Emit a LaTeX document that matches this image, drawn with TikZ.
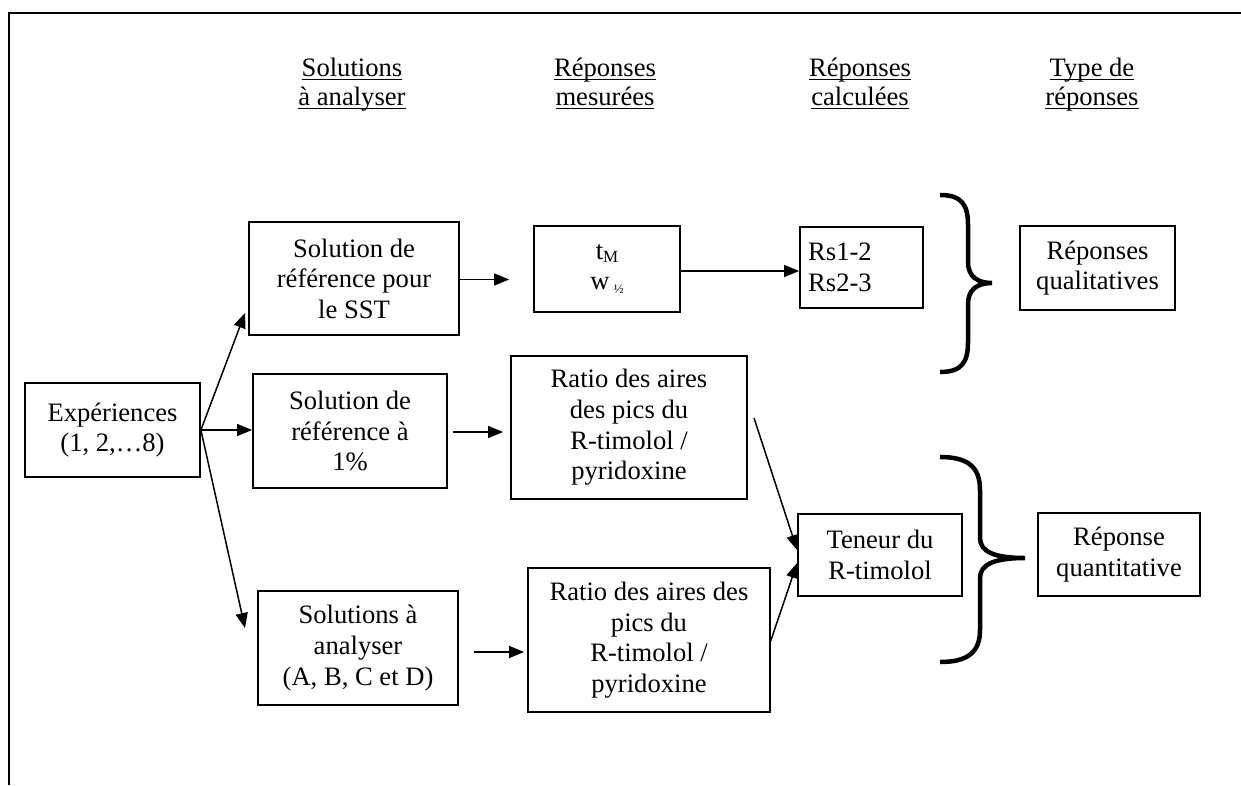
\documentclass[tikz,border=0pt]{standalone}
\usepackage{fontspec}
\setmainfont{Liberation Serif}
\newcommand\hul[1]{\sbox0{#1}\rlap{\rule[-4pt]{\wd0}{1.5pt}}\usebox0}
\usetikzlibrary{arrows.meta,calc}
\begin{document}
\begin{tikzpicture}[x=1pt,y=-1pt,
  box/.style={draw,line width=1.8pt,inner sep=0pt,align=center,
    font=\fontsize{26.6}{30.6}\selectfont},
  txt/.style={align=left,inner sep=0pt,font=\fontsize{26.6}{30.6}\selectfont},
  hdr/.style={align=center,inner sep=0pt,font=\fontsize{26.6}{29}\selectfont},
  arr/.style={line width=1.5pt,-{Triangle[length=15pt,width=12pt]}},
  brace/.style={line width=4.5pt}]
\useasboundingbox (0,0) rectangle (1241,785);
% frame
\draw[line width=2pt] (9,785) -- (9,13) -- (1241,13);
% headers (anchor base = last line)
\node[hdr,anchor=base] (h1) at (352,105) {\hul{Solutions}\\\hul{à analyser}};
\node[hdr,anchor=base] (h2) at (605,105) {\hul{Réponses}\\\hul{mesurées}};
\node[hdr,anchor=base] (h3) at (860,105) {\hul{Réponses}\\\hul{calculées}};
\node[hdr,anchor=base] (h4) at (1092,105) {\hul{Type de}\\\hul{réponses}};
% boxes
\node[box,minimum width=175pt,minimum height=94pt] (exp) at (112.5,430) {Expériences\\(1, 2,…8)};
\node[box,minimum width=210pt,minimum height=113pt] (sst) at (354,278.5) {Solution de\\référence pour\\le SST};
\node[box,minimum width=146pt,minimum height=86pt] (tm) at (607,269)
  {t\raisebox{-0.3ex}{\fontsize{17}{17}\selectfont M}\\w\,\raisebox{-0.35ex}{\fontsize{13}{13}\selectfont ½}};
\node[box,minimum width=123pt,minimum height=81pt] (rs) at (861.5,267.5) {};
\node[txt,anchor=west] (rs-t) at (808,267.5) {Rs1-2\\Rs2-3};
\node[box,minimum width=155pt,minimum height=84pt] (qual) at (1097.5,268) {Réponses\\qualitatives};
\node[box,minimum width=194pt,minimum height=114pt] (one) at (350,431) {Solution de\\référence à\\1\%};
\node[box,minimum width=236pt,minimum height=143pt] (rat1) at (629,427.5) {Ratio des aires\\des pics du\\R-timolol /\\pyridoxine};
\node[box,minimum width=200pt,minimum height=114pt] (sol) at (358,648) {Solutions à\\analyser\\(A, B, C et D)};
\node[box,minimum width=242pt,minimum height=144pt] (rat2) at (649,640) {Ratio des aires des\\pics du\\R-timolol /\\pyridoxine};
\node[box,minimum width=164pt,minimum height=82pt] (ten) at (880,555) {Teneur du\\R-timolol};
\node[box,minimum width=162pt,minimum height=83pt] (quant) at (1119,554.5) {Réponse\\quantitative};
% connectors
\coordinate (e1) at (245,313);
\coordinate (e3) at (245,628);
\coordinate (r1a) at (754,418);
\coordinate (r2a) at (770,643);
\draw[arr] (exp.east) -- (e1);
\draw[arr] (exp.east) -- (exp.east -| one.west);
\draw[arr] (exp.east) -- (e3);
\draw[arr,shorten >=24pt] ([yshift=-1pt]sst.east) -- ([yshift=-1pt]sst.east -| tm.west);
\draw[arr] ([yshift=-2pt]tm.east) -- ([yshift=-2pt]tm.east -| rs.west);
\draw[arr,shorten <=5pt,shorten >=7pt] ([yshift=-1pt]one.east) -- ([yshift=-1pt]one.east -| rat1.west);
\draw[arr,shorten <=15pt,shorten >=3pt] ([yshift=-4pt]sol.east) -- ([yshift=-4pt]sol.east -| rat2.west);
\draw[arr] (r1a) -- ([yshift=5pt]ten.west);
\draw[arr] (r2a) -- ([yshift=-8pt]ten.west);
% braces
\draw[brace] (940,195) .. controls (962,195) and (968,205) .. (968,225)
  -- (968,262) .. controls (968,277) and (978,283) .. (992,283)
  .. controls (978,283) and (968,289) .. (968,304)
  -- (968,342) .. controls (968,362) and (962,372) .. (940,372);
\draw[brace] (940,457) .. controls (968,457) and (980,467) .. (980,490)
  -- (980,538) .. controls (980,552) and (995,558) .. (1025,558)
  .. controls (995,558) and (980,564) .. (980,578)
  -- (980,630) .. controls (980,652) and (968,662) .. (940,662);
\end{tikzpicture}
\end{document}
